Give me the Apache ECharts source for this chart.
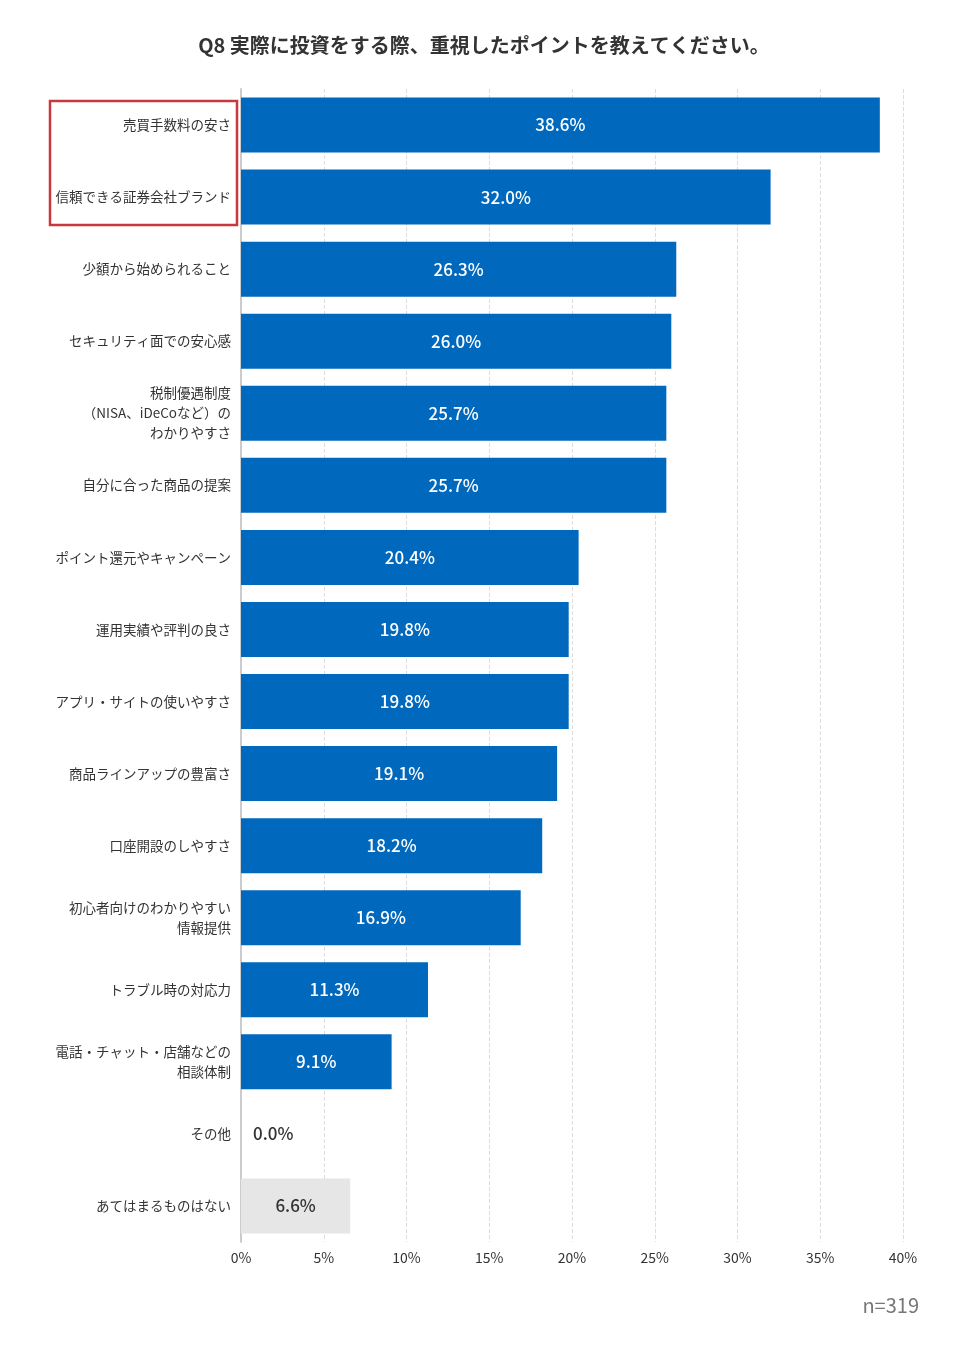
<!DOCTYPE html>
<html><head><meta charset="utf-8">
<script src="https://cdn.jsdelivr.net/npm/echarts@6/dist/echarts.min.js"></script>
<style>html,body{margin:0;padding:0;background:#fff}#c{width:968px;height:1350px}</style>
</head><body><div id="c"></div>
<script>
const titleText = 'Q8 実際に投資をする際、重視したポイントを教えてください。';
const categories = [
  '売買手数料の安さ',
  '信頼できる証券会社ブランド',
  '少額から始められること',
  'セキュリティ面での安心感',
  '税制優遇制度\n（NISA、iDeCoなど）の\nわかりやすさ',
  '自分に合った商品の提案',
  'ポイント還元やキャンペーン',
  '運用実績や評判の良さ',
  'アプリ・サイトの使いやすさ',
  '商品ラインアップの豊富さ',
  '口座開設のしやすさ',
  '初心者向けのわかりやすい\n情報提供',
  'トラブル時の対応力',
  '電話・チャット・店舗などの\n相談体制',
  'その他',
  'あてはまるものはない'
];
const values = [38.6, 32.0, 26.3, 26.0, 25.7, 25.7, 20.4, 19.8, 19.8, 19.1, 18.2, 16.9, 11.3, 9.1, 0.0, 6.6];
const xTicks = [0, 5, 10, 15, 20, 25, 30, 35, 40];
const sampleNote = 'n=319';

const FONT = '"Noto Sans CJK JP", "Noto Sans", sans-serif';
const chart = echarts.init(document.getElementById('c'));
const data = values.map((v, i) => {
  const last = i === values.length - 1;
  const item = { value: v, itemStyle: { color: last ? '#e6e6e6' : '#0068bd' } };
  if (last) item.label = { color: '#333' };
  if (v === 0) item.label = { position: 'right', distance: 12, color: '#333' };
  return item;
});
chart.setOption({
  animation: false,
  title: {
    text: titleText, left: 'center', top: 30,
    textStyle: { fontFamily: FONT, fontSize: 20, fontWeight: 'bold', color: '#333' }
  },
  grid: { left: 241, right: 65, top: 89, bottom: 108, containLabel: false },
  xAxis: {
    type: 'value', min: 0, max: 40, interval: 5,
    axisLine: { show: false }, axisTick: { show: false },
    splitLine: { show: true, lineStyle: { color: '#dddddd', type: 'dashed' } },
    axisLabel: { formatter: v => xTicks.includes(v) ? v + '%' : '', color: '#333', fontSize: 14, fontFamily: FONT, margin: 9 }
  },
  yAxis: {
    type: 'category', inverse: true, data: categories,
    axisLine: { show: true, lineStyle: { color: '#cccccc', width: 2 } },
    axisTick: { show: false },
    axisLabel: { color: '#333', fontSize: 13.5, fontFamily: FONT, lineHeight: 20, margin: 10, align: 'right' }
  },
  series: [{
    type: 'bar', data: data, barWidth: 55,
    label: {
      show: true, position: 'inside', color: '#fff', fontSize: 17, fontFamily: FONT, fontWeight: 500,
      formatter: p => p.value.toFixed(1) + '%'
    }
  }],
  graphic: [
    { type: 'rect', shape: { x: 50, y: 101, width: 187, height: 124 }, style: { fill: 'none', stroke: '#c8383c', lineWidth: 2.5 } },
    { type: 'text', right: 49, top: 1295, style: { text: sampleNote, fill: '#777', fontSize: 20, fontFamily: FONT } }
  ]
});
</script></body></html>
